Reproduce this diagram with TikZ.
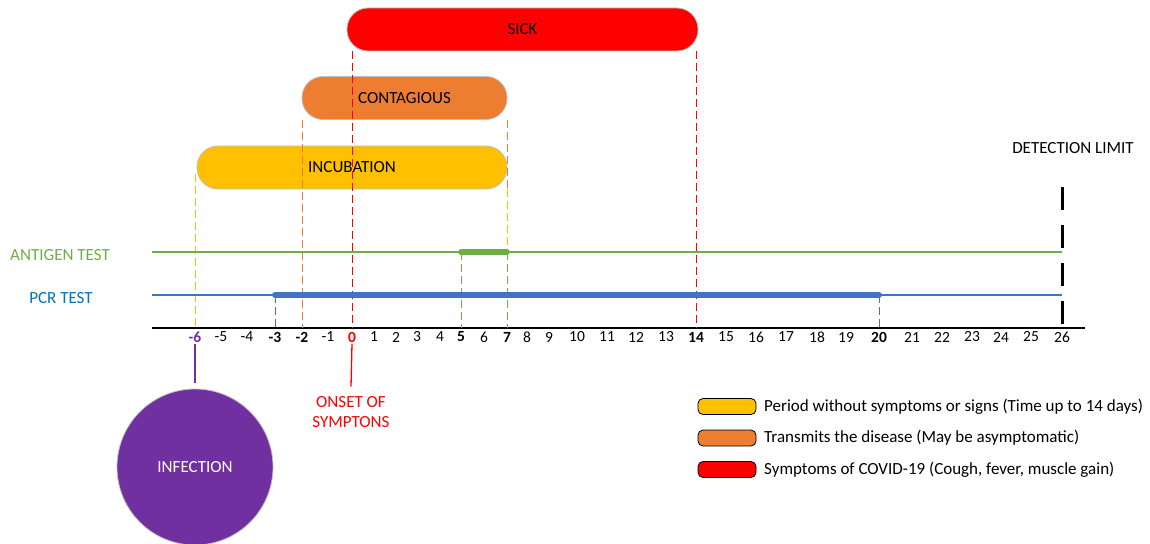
\documentclass[tikz,border=0pt]{standalone}
\usepackage{fontspec}
\setmainfont{Carlito}
\usetikzlibrary{positioning}

\definecolor{incyellow}{HTML}{FFC000}
\definecolor{conorange}{HTML}{ED7D31}
\definecolor{sickred}{HTML}{FF0000}
\definecolor{antgreen}{HTML}{70AD47}
\definecolor{pcrblue}{HTML}{4472C4}
\definecolor{pcrtext}{HTML}{0070C0}
\definecolor{infpurple}{HTML}{7030A0}
\definecolor{barborder}{HTML}{BFBFBF}

\tikzset{every picture/.style={line width=1pt}}

\begin{document}
\begin{tikzpicture}[x=1pt, y=-1pt, line join=round, font=\fontsize{17}{20}\selectfont,
	bar/.style={draw=barborder, line width=0.8pt, rounded corners=21pt, minimum height=43pt, inner sep=0pt},
	legbox/.style={draw=black, line width=0.8pt, rounded corners=5pt, minimum width=58pt, minimum height=16pt, inner sep=0pt},
	daylbl/.style={font=\fontsize{15.5}{18}\selectfont, inner sep=1pt},
	boldday/.style={daylbl, font=\fontsize{15.5}{18}\selectfont\bfseries},
	guide/.style={dash pattern=on 8pt off 4pt, line width=1pt},
	testline/.style={line width=1.3pt},
	window/.style={line width=5.5pt, line cap=round}]
	\useasboundingbox (0,0) rectangle (1150,543);
	\path
	(152,328) coordinate (axL)
	(1085,328) coordinate (axR)
	(152,252) coordinate (antL)
	(1062,252) coordinate (antR)
	(152,295) coordinate (pcrL)
	(1062,295) coordinate (pcrR)
	(1062,187) coordinate (limtop);
	% day numbers
	\foreach \d/\x [count=\k] in {-5/221,-4/247,-1/328,1/374,2/396,3/417,4/440,6/484,8/527,9/549,10/577,11/607,12/636,13/666,15/726,16/756,17/786,18/817,19/846,21/912,22/942,23/972,24/1001,25/1031}
		\node[daylbl] (t\k) at (\x,337) {\d};
	\node[boldday, text=infpurple] (dinf) at (195,337) {-6};
	\node[boldday] (dpcr) at (275,337) {-3};
	\node[boldday] (dcon) at (302,337) {-2};
	\node[boldday, text=sickred] (dons) at (352,337) {0};
	\node[boldday] (dant) at (461,337) {5};
	\node[boldday] (dend) at (507,337) {7};
	\node[boldday] (dsick) at (696,337) {14};
	\node[boldday] (dpcrend) at (879,337) {20};
	\node[daylbl] (dlim) at (1062,337) {26};
	\draw[line width=1.3pt] (axL)--(axR);
	% periods
	\node[bar, fill=sickred, minimum width=351pt] (sick) at (522.5,29.5) {SICK};
	\node[bar, fill=conorange, minimum width=205pt] (contagious) at (404.5,98) {CONTAGIOUS};
	\node[bar, fill=incyellow, minimum width=310pt] (incubation) at (352,167.5) {INCUBATION};
	\draw[guide, sickred] (dons |- sick.south)--(dons |- axL) (dsick |- sick.south)--(dsick |- axL);
	\draw[guide, conorange] (dcon |- contagious.south)--(dcon |- axL) (dend |- contagious.south)--(dend |- incubation.south);
	\draw[guide, incyellow] ([yshift=-6pt]dinf |- incubation.center)--(dinf |- axL) (dend |- incubation.south)--(dend |- antL);
	% tests
	\node[text=antgreen] (antlbl) at (60,255) {ANTIGEN TEST};
	\node[text=pcrtext] (pcrlbl) at (61,298) {PCR TEST};
	\draw[testline, antgreen] (antL)--(antR);
	\draw[testline, pcrblue] (pcrL)--(pcrR);
	\draw[guide, antgreen] (dant |- antL)--(dant |- axL) (dend |- antL)--(dend |- axL);
	\draw[guide, pcrblue] (dpcr |- pcrL)--(dpcr |- axL) (dpcrend |- pcrL)--(dpcrend |- axL);
	\draw[window, antgreen] (dant |- antL)--(dend |- antL);
	\draw[window, pcrblue, line width=6pt] (dpcr |- pcrL)--(dpcrend |- pcrL);
	\node (detlim) at (1073,148) {DETECTION LIMIT};
	\draw[line width=3pt, dash pattern=on 23pt off 15pt] (limtop)--(dlim |- axL);
	% infection and onset
	\node[circle, fill=infpurple, draw=barborder, line width=0.8pt, minimum size=156pt, text=white] (infection) at (195,467) {INFECTION};
	\draw[infpurple, line width=1.3pt] (dinf.south)--([yshift=6pt]infection.north);
	\node[text=sickred, align=center, font=\fontsize{17}{20}\selectfont] (onset) at (351,412) {ONSET OF\\SYMPTONS};
	\draw[sickred, line width=1.3pt] (dons.south)--([yshift=6pt]onset.north);
	% legend
	\node[legbox, fill=incyellow] (leg1) at (727,406.5) {};
	\node[legbox, fill=conorange] (leg2) at (727,438) {};
	\node[legbox, fill=sickred] (leg3) at (727,469.5) {};
	\node[right=4pt of leg1] (legtxt1) {Period without symptoms or signs (Time up to 14 days)};
	\node[right=4pt of leg2] (legtxt2) {Transmits the disease (May be asymptomatic)};
	\node[right=4pt of leg3] (legtxt3) {Symptoms of COVID-19 (Cough, fever, muscle gain)};
\end{tikzpicture}
\end{document}
